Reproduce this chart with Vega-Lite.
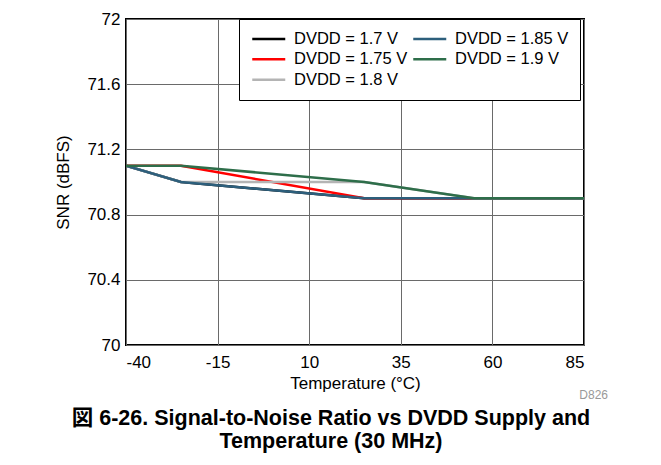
{
  "$schema": "https://vega.github.io/schema/vega-lite/v6.json",
  "width": 458,
  "height": 326,
  "autosize": {"type": "none"},
  "padding": {"left": 126, "top": 19, "right": 77, "bottom": 120},
  "background": "white",
  "config": {
    "font": "Liberation Sans",
    "view": {"stroke": "black", "strokeWidth": 2},
    "axis": {
      "labelFont": "Liberation Sans",
      "titleFont": "Liberation Sans",
      "labelFontSize": 17,
      "titleFontSize": 17,
      "labelColor": "black",
      "titleColor": "black",
      "titleFontWeight": "normal",
      "gridColor": "#6a6a6a",
      "gridOpacity": 1,
      "gridWidth": 1,
      "domain": false,
      "ticks": false
    }
  },
  "title": {
    "text": ["図 6-26. Signal-to-Noise Ratio vs DVDD Supply and", "Temperature (30 MHz)"],
    "orient": "bottom",
    "anchor": "middle",
    "font": "Liberation Sans, Noto Sans CJK JP",
    "fontSize": 21.5,
    "fontWeight": "bold",
    "color": "black",
    "lineHeight": 23,
    "offset": 7,
    "dx": -24
  },
  "data": {
    "values": [
      {"series": "DVDD = 1.7 V", "t": -40, "snr": 71.1},
      {"series": "DVDD = 1.7 V", "t": -25, "snr": 71.0},
      {"series": "DVDD = 1.7 V", "t": 25, "snr": 70.9},
      {"series": "DVDD = 1.7 V", "t": 55, "snr": 70.9},
      {"series": "DVDD = 1.7 V", "t": 85, "snr": 70.9},
      {"series": "DVDD = 1.75 V", "t": -40, "snr": 71.1},
      {"series": "DVDD = 1.75 V", "t": -25, "snr": 71.1},
      {"series": "DVDD = 1.75 V", "t": 25, "snr": 70.9},
      {"series": "DVDD = 1.75 V", "t": 55, "snr": 70.9},
      {"series": "DVDD = 1.75 V", "t": 85, "snr": 70.9},
      {"series": "DVDD = 1.8 V", "t": -40, "snr": 71.1},
      {"series": "DVDD = 1.8 V", "t": -25, "snr": 71.0},
      {"series": "DVDD = 1.8 V", "t": 25, "snr": 71.0},
      {"series": "DVDD = 1.8 V", "t": 55, "snr": 70.9},
      {"series": "DVDD = 1.8 V", "t": 85, "snr": 70.9},
      {"series": "DVDD = 1.85 V", "t": -40, "snr": 71.1},
      {"series": "DVDD = 1.85 V", "t": -25, "snr": 71.0},
      {"series": "DVDD = 1.85 V", "t": 25, "snr": 70.9},
      {"series": "DVDD = 1.85 V", "t": 55, "snr": 70.9},
      {"series": "DVDD = 1.85 V", "t": 85, "snr": 70.9},
      {"series": "DVDD = 1.9 V", "t": -40, "snr": 71.1},
      {"series": "DVDD = 1.9 V", "t": -25, "snr": 71.1},
      {"series": "DVDD = 1.9 V", "t": 25, "snr": 71.0},
      {"series": "DVDD = 1.9 V", "t": 55, "snr": 70.9},
      {"series": "DVDD = 1.9 V", "t": 85, "snr": 70.9}
    ]
  },
  "layer": [
    {
      "mark": {"type": "line", "strokeWidth": 2.5, "clip": true},
      "encoding": {
        "x": {
          "field": "t", "type": "quantitative",
          "scale": {"domain": [-40, 85], "nice": false},
          "axis": {"values": [-40, -15, 10, 35, 60, 85], "labelExpr": "replace(datum.label, '\u2212', '-')", "title": "Temperature (°C)", "labelPadding": 9, "titlePadding": 5}
        },
        "y": {
          "field": "snr", "type": "quantitative",
          "scale": {"domain": [70, 72], "nice": false, "zero": false},
          "axis": {"values": [70, 70.4, 70.8, 71.2, 71.6, 72], "format": "~g", "title": "SNR (dBFS)", "labelPadding": 6, "titlePadding": 14}
        },
        "color": {
          "field": "series", "type": "nominal",
          "scale": {
            "domain": ["DVDD = 1.7 V", "DVDD = 1.75 V", "DVDD = 1.8 V", "DVDD = 1.85 V", "DVDD = 1.9 V"],
            "range": ["#000000", "#ff0000", "#b4b4b4", "#2d5f7c", "#2e6e4a"]
          },
          "legend": {
            "title": null,
            "orient": "none",
            "legendX": 113,
            "legendY": 0,
            "direction": "vertical",
            "columns": 2,
            "columnPadding": 0,
            "rowPadding": 3.5,
            "padding": 11.5,
            "symbolOffset": 10,
            "offset": 0,
            "strokeColor": "black",
            "fillColor": "white",
            "symbolType": "M-3,0H3",
            "symbolSize": 121,
            "symbolStrokeWidth": 2.5,
            "labelFontSize": 16.5,
            "labelColor": "black",
            "labelFont": "Liberation Sans",
            "labelOffset": 17
          }
        },
        "order": {"field": "t", "type": "quantitative"}
      }
    },
    {
      "data": {"values": [{"note": "D826"}]},
      "mark": {"type": "text", "align": "right", "baseline": "middle", "dy": 50, "dx": 24, "fontSize": 12, "color": "#999999", "font": "Liberation Sans"},
      "encoding": {
        "x": {"datum": 85, "type": "quantitative"},
        "y": {"datum": 70, "type": "quantitative"},
        "text": {"field": "note"}
      }
    }
  ]
}
